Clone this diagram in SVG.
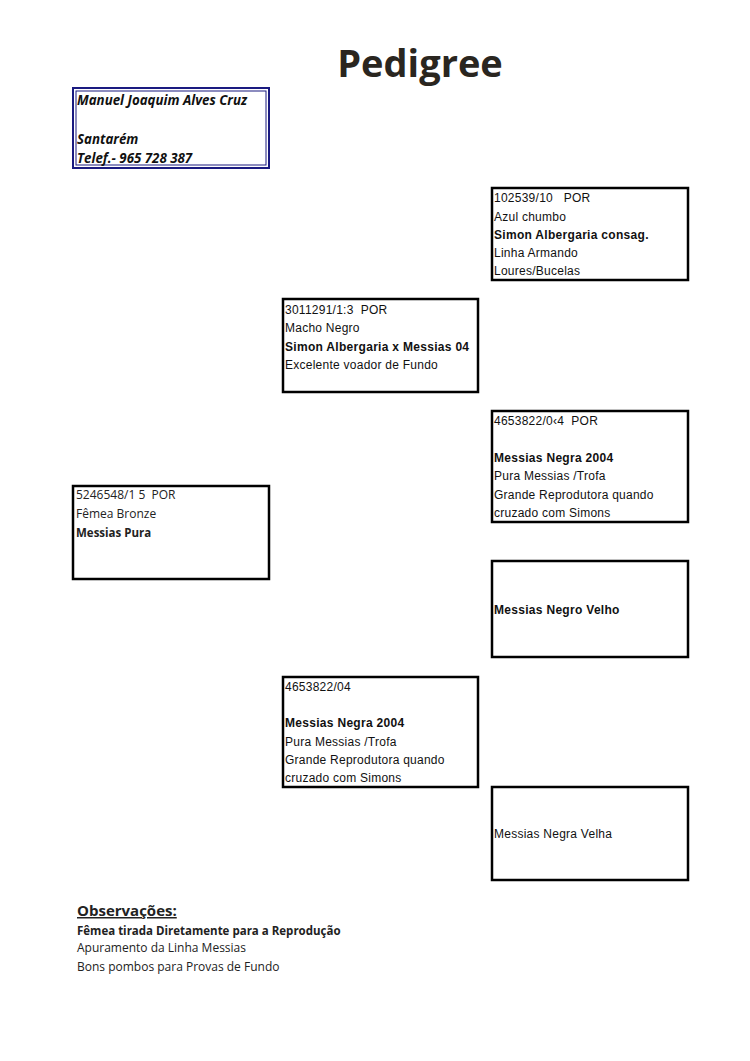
<svg xmlns="http://www.w3.org/2000/svg" width="750" height="1061" viewBox="0 0 750 1061" xml:space="preserve">
<style>
text{white-space:pre}
.box{fill:#fff;stroke:#000;stroke-width:2.5}
.a{font-family:"Liberation Sans",Arial,sans-serif;font-size:12px;letter-spacing:0.25px;fill:#111}
.ab{font-family:"Liberation Sans",Arial,sans-serif;font-size:12px;letter-spacing:0.3px;font-weight:bold;fill:#111}
.c{font-family:"Open Sans","Noto Sans",sans-serif;font-size:12px;fill:#222}
.cb{font-family:"Open Sans","Noto Sans",sans-serif;font-size:11.5px;font-weight:bold;fill:#222}
.own{font-family:"Open Sans","Noto Sans",sans-serif;font-size:13.3px;font-weight:bold;font-style:italic;fill:#111}
</style>
<rect width="750" height="1061" fill="#fff"/>
<text id="title" x="420" y="77" text-anchor="middle" font-family="'Open Sans','Noto Sans',sans-serif" font-size="38" font-weight="bold" fill="#2a2620">Pedigree</text>
<g id="owner">
<rect x="73" y="88" width="196" height="80" fill="#fff" stroke="#1a1a80" stroke-width="2"/>
<rect x="76" y="91" width="190" height="74" fill="none" stroke="#1a1a80" stroke-width="1"/>
<text class="own" x="77" y="105">Manuel Joaquim Alves Cruz</text>
<text class="own" x="77" y="144">Santarém</text>
<text class="own" x="77" y="163">Telef.- 965 728 387</text>
</g>
<g id="node-sire-sire">
<rect class="box" x="492" y="188" width="196" height="92"/>
<text class="a" x="494" y="202">102539/10   POR</text>
<text class="a" x="494" y="221">Azul chumbo</text>
<text class="ab" x="494" y="239">Simon Albergaria consag.</text>
<text class="a" x="494" y="257">Linha Armando</text>
<text class="a" x="494" y="275">Loures/Bucelas</text>
</g>
<g id="node-sire">
<rect class="box" x="283" y="299" width="195" height="93"/>
<text class="a" x="285" y="314">3011291/1:3  POR</text>
<text class="a" x="285" y="332">Macho Negro</text>
<text class="ab" x="285" y="351">Simon Albergaria x Messias 04</text>
<text class="a" x="285" y="369">Excelente voador de Fundo</text>
</g>
<g id="node-sire-dam">
<rect class="box" x="492" y="411" width="196" height="111"/>
<text class="a" x="494" y="425">4653822/0‹4  POR</text>
<text class="ab" x="494" y="462">Messias Negra 2004</text>
<text class="a" x="494" y="480">Pura Messias /Trofa</text>
<text class="a" x="494" y="499">Grande Reprodutora quando</text>
<text class="a" x="494" y="517">cruzado com Simons</text>
</g>
<g id="node-subject">
<rect class="box" x="73" y="486" width="196" height="93"/>
<text class="c" x="76" y="499">5246548/1 5  POR</text>
<text class="c" x="76" y="518">Fêmea Bronze</text>
<text class="cb" x="76" y="537">Messias Pura</text>
</g>
<g id="node-dam-sire">
<rect class="box" x="492" y="561" width="196" height="96"/>
<text class="ab" x="494" y="614">Messias Negro Velho</text>
</g>
<g id="node-dam">
<rect class="box" x="283" y="677" width="195" height="110"/>
<text class="a" x="285" y="691">4653822/04</text>
<text class="ab" x="285" y="727">Messias Negra 2004</text>
<text class="a" x="285" y="746">Pura Messias /Trofa</text>
<text class="a" x="285" y="764">Grande Reprodutora quando</text>
<text class="a" x="285" y="782">cruzado com Simons</text>
</g>
<g id="node-dam-dam">
<rect class="box" x="492" y="787" width="196" height="93"/>
<text class="a" x="494" y="838">Messias Negra Velha</text>
</g>
<g id="connectors"></g>
<g id="notes">
<text x="77" y="916" font-family="'Open Sans','Noto Sans',sans-serif" font-size="15" font-weight="bold" fill="#222" text-decoration="underline">Observações:</text>
<text class="cb" x="77" y="935">Fêmea tirada Diretamente para a Reprodução</text>
<text class="c" x="77" y="952">Apuramento da Linha Messias</text>
<text class="c" x="77" y="971">Bons pombos para Provas de Fundo</text>
</g>
</svg>
